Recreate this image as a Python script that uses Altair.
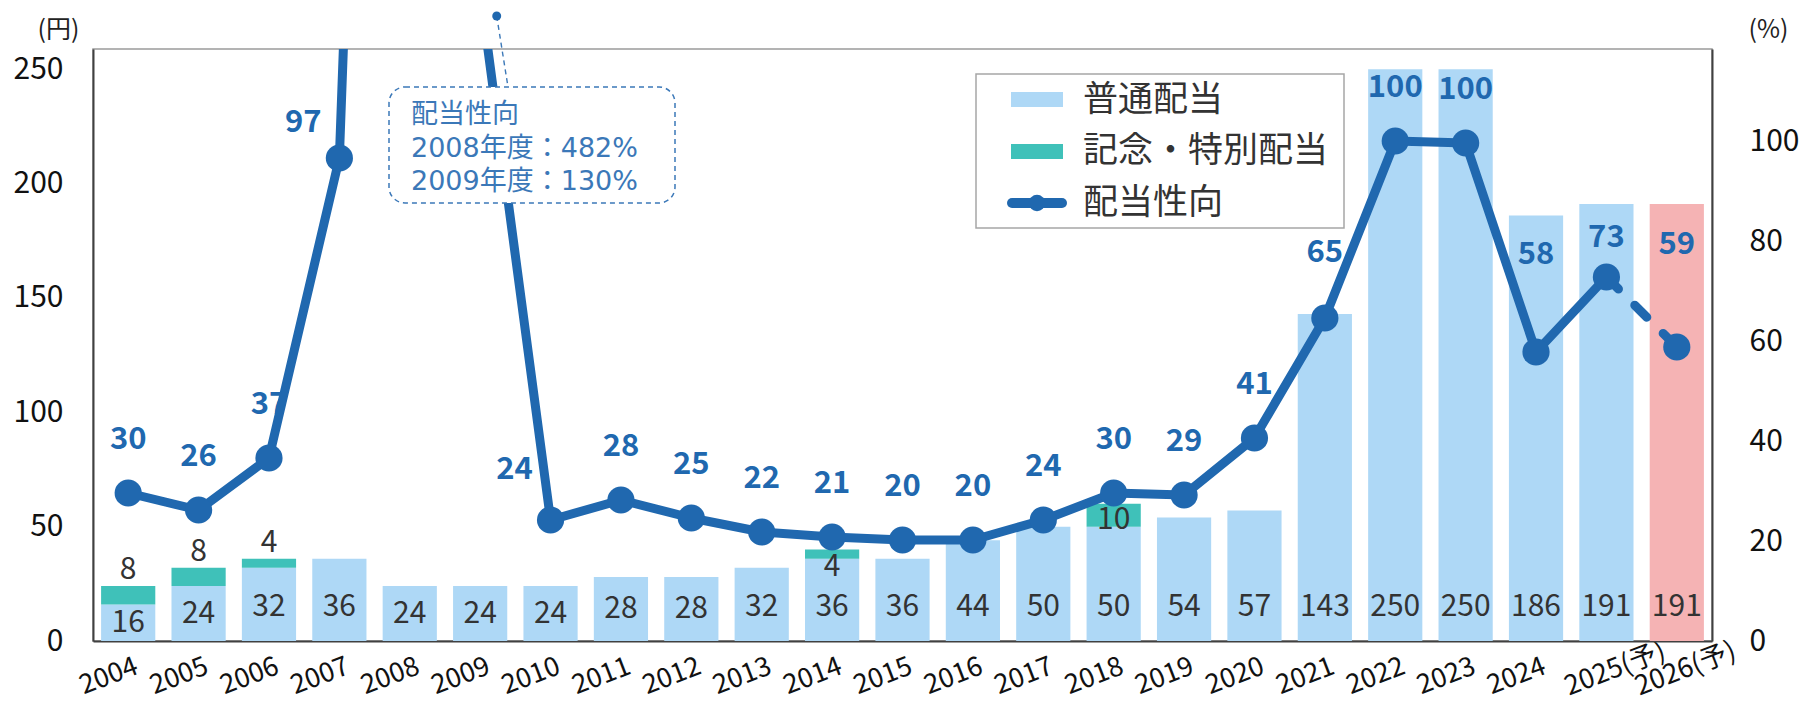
import altair as alt
import pandas as pd

# ---------------- data ----------------
years = ["2004", "2005", "2006", "2007", "2008", "2009", "2010", "2011", "2012",
         "2013", "2014", "2015", "2016", "2017", "2018", "2019", "2020", "2021",
         "2022", "2023", "2024", "2025(予)", "2026(予)"]
regular = [16, 24, 32, 36, 24, 24, 24, 28, 28, 32, 36, 36, 44, 50, 50, 54, 57,
           143, 250, 250, 186, 191, 191]
special = [8, 8, 4, 0, 0, 0, 0, 0, 0, 0, 4, 0, 0, 0, 10, 0, 0, 0, 0, 0, 0, 0, 0]
payout = [29.6, 26.2, 36.6, 96.6, 482, 130, 24.2, 28.2, 24.6, 21.8, 20.8, 20.2,
          20.2, 24.2, 29.6, 29.2, 40.6, 64.6, 100.0, 99.6, 57.8, 72.8, 58.8]

legend_labels = ["普通配当", "記念・特別配当", "配当性向"]

# ---------------- style ----------------
FONT = "Noto Sans CJK JP"
ANN_FONT = "DejaVu Sans, Noto Sans CJK JP"
BAR_BLUE = "#AED8F6"
TEAL = "#3FC1B9"
PINK = "#F5B3B4"
LINE = "#2068AF"
ANN = "#3B78B8"
TXT = "#333333"

W, H = 1619, 592
LEFT_MAX = 258.8
RIGHT_MAX = 118.4
PX_PER_PCT = H / RIGHT_MAX
PX_PER_YEN = H / LEFT_MAX

# label placement tweaks (pixels)
lift_px = {"2007": 35, "2010": 50, "2021": 65, "2024": 97, "2025(予)": 39, "2026(予)": 102}
shift_left = ["2007", "2010"]
special_place = {"2014": "below", "2018": "inside"}

df = pd.DataFrame({"year": years, "regular": regular, "special": special, "payout": payout})
df["total"] = df["regular"] + df["special"]
df["bar_label_y"] = [min(r / 2, 34 / PX_PER_YEN) for r in df["regular"]]


def sp_y(row):
    place = special_place.get(row["year"], "above")
    if place == "below":
        return row["regular"] - 8.5 / PX_PER_YEN
    if place == "inside":
        return row["regular"] + 0.3 * row["special"]
    return row["total"] + 16 / PX_PER_YEN


df["sp_label_y"] = df.apply(sp_y, axis=1)
df["line_label_y"] = [p + lift_px.get(y, 53) / PX_PER_PCT for y, p in zip(df["year"], df["payout"])]
df["shift"] = df["year"].isin(shift_left)

FORECAST_TEST = "indexof(datum.value, '予') >= 0"

x_enc = alt.X("year:N", sort=years, title=None,
              scale=alt.Scale(paddingInner=0.23, paddingOuter=0.115),
              axis=alt.Axis(labelAngle=-21, labelAlign="right",
                            labelBaseline={"condition": {"test": FORECAST_TEST, "value": "middle"},
                                           "value": "top"},
                            labelOffset={"condition": {"test": FORECAST_TEST, "value": 58},
                                         "value": 4},
                            labelPadding={"condition": {"test": FORECAST_TEST, "value": 9},
                                          "value": 12},
                            labelFontSize=27, labelColor="#111",
                            labelOverlap=False, ticks=False, domainColor="#404040",
                            domainWidth=2, labelFont=FONT, labelBound=False))

left_scale = alt.Scale(domain=[0, LEFT_MAX], nice=False, zero=True)
right_scale = alt.Scale(domain=[0, RIGHT_MAX], nice=False, zero=True)

left_axis = alt.Axis(values=[0, 50, 100, 150, 200, 250], ticks=False, grid=False,
                     labelFontSize=30, labelPadding=30, labelColor="#111",
                     domainColor="#404040", domainWidth=2, title="(円)",
                     titleAngle=0, titleX=-35, titleY=-20, titleAlign="center",
                     titleBaseline="middle", titleFontSize=25, titleFontWeight="normal",
                     titleColor="#222", labelFont=FONT, titleFont=FONT)
right_axis = alt.Axis(values=[0, 20, 40, 60, 80, 100], ticks=False, grid=False,
                      orient="right", labelFontSize=30, labelPadding=37, labelColor="#111",
                      labelAlign="left", domainColor="#404040", domainWidth=2, title="(%)",
                      titleAngle=0, titleX=56, titleY=-20, titleAlign="center",
                      titleBaseline="middle", titleFontSize=25, titleFontWeight="normal",
                      titleColor="#222", labelFont=FONT, titleFont=FONT)

base = alt.Chart(df)

bars = base.mark_bar().encode(
    x=x_enc,
    y=alt.Y("regular:Q", scale=left_scale, axis=left_axis),
    color=alt.condition("datum.year == '2026(予)'", alt.value(PINK), alt.value(BAR_BLUE)),
)
bars_sp = base.transform_filter("datum.special > 0").mark_bar(color=TEAL).encode(
    x=x_enc, y=alt.Y("total:Q"), y2=alt.Y2("regular:Q"))
bar_text = base.mark_text(font=FONT, fontSize=30, color=TXT, baseline="middle").encode(
    x=x_enc, y=alt.Y("bar_label_y:Q"), text=alt.Text("regular:Q"))
sp_text = base.transform_filter("datum.special > 0").mark_text(
    font=FONT, fontSize=30, color=TXT, baseline="middle").encode(
    x=x_enc, y=alt.Y("sp_label_y:Q"), text=alt.Text("special:Q"))

left_layer = alt.layer(bars, bars_sp, bar_text, sp_text)

solid_df = df.iloc[:-1]
dash_df = df.iloc[-2:]
line_solid = alt.Chart(solid_df).mark_line(color=LINE, strokeWidth=9, clip=True,
                                           strokeJoin="round").encode(
    x=x_enc, y=alt.Y("payout:Q", scale=right_scale, axis=right_axis))
line_dash = alt.Chart(dash_df).mark_line(color=LINE, strokeWidth=9, clip=True,
                                         strokeDash=[17, 23], strokeCap="round").encode(
    x=x_enc, y=alt.Y("payout:Q"))
pts = base.mark_circle(size=740, color=LINE, opacity=1, clip=True).encode(
    x=x_enc, y=alt.Y("payout:Q"))
vis = base.transform_filter(f"datum.payout <= {RIGHT_MAX}")
lab_norm = vis.transform_filter("!datum.shift").mark_text(
    font=FONT, fontSize=31, fontWeight="bold", color=LINE, baseline="middle").encode(
    x=x_enc, y=alt.Y("line_label_y:Q"), text=alt.Text("payout:Q", format=".0f"))
lab_shift = vis.transform_filter("datum.shift").mark_text(
    font=FONT, fontSize=31, fontWeight="bold", color=LINE, baseline="middle", dx=-36).encode(
    x=x_enc, y=alt.Y("line_label_y:Q"), text=alt.Text("payout:Q", format=".0f"))

right_layer = alt.layer(line_solid, line_dash, pts, lab_norm, lab_shift)

# ---------------- annotation callout ----------------
one = pd.DataFrame({"k": [0]})
ann_text = "\n".join(["配当性向",
                      f"2008年度：{payout[4]:.0f}%",
                      f"2009年度：{payout[5]:.0f}%"])
ann_box = alt.Chart(one).mark_rect(cornerRadius=16, fill="white", stroke=ANN,
                                   strokeDash=[5, 4], strokeWidth=1.5).encode(
    x=alt.value(296), x2=alt.value(582), y=alt.value(38), y2=alt.value(154))
ann_rule = alt.Chart(one).mark_rule(color=ANN, strokeDash=[5, 4], strokeWidth=1.4).encode(
    x=alt.value(403.7), y=alt.value(-33), x2=alt.value(415), y2=alt.value(38))
ann_dot = alt.Chart(one).mark_circle(size=80, color=LINE, opacity=1).encode(
    x=alt.value(403.7), y=alt.value(-33))
ann_txt = alt.Chart(one).mark_text(font=ANN_FONT, fontSize=27, color=ANN, align="left",
                                   baseline="middle", lineBreak="\n", lineHeight=33.5).encode(
    x=alt.value(318), y=alt.value(66), text=alt.value(ann_text))

# ---------------- legend ----------------
leg_box = alt.Chart(one).mark_rect(fill="white", stroke="#a6a6a6", strokeWidth=1.5).encode(
    x=alt.value(883), x2=alt.value(1251), y=alt.value(25), y2=alt.value(179))
leg_r1 = alt.Chart(one).mark_rect(color=BAR_BLUE).encode(
    x=alt.value(918), x2=alt.value(970), y=alt.value(43), y2=alt.value(58))
leg_r2 = alt.Chart(one).mark_rect(color=TEAL).encode(
    x=alt.value(918), x2=alt.value(970), y=alt.value(95), y2=alt.value(110))
leg_line = alt.Chart(one).mark_rule(color=LINE, strokeWidth=10, strokeCap="round").encode(
    x=alt.value(919), x2=alt.value(969), y=alt.value(154))
leg_dot = alt.Chart(one).mark_circle(size=270, color=LINE, opacity=1).encode(
    x=alt.value(944), y=alt.value(154))
leg_df = pd.DataFrame({"label": legend_labels, "row": [0, 1, 2]})
leg_txt = alt.Chart(leg_df).transform_calculate(
    py="[51, 101.5, 154.3][datum.row]").mark_text(
    font=FONT, fontSize=35, color=TXT, align="left", baseline="middle").encode(
    x=alt.value(990), y=alt.Y("py:Q", scale=None), text="label:N")

deco = alt.layer(ann_box, ann_rule, ann_dot, ann_txt, leg_box, leg_r1, leg_r2,
                 leg_line, leg_dot, leg_txt)

chart = alt.layer(left_layer, right_layer, deco).resolve_scale(y="independent").properties(
    width=W, height=H,
    autosize=alt.AutoSizeParams(type="none"),
    padding={"left": 85, "top": 41, "right": 90, "bottom": 62},
).configure(font=FONT).configure_view(stroke="#9a9a9a", strokeWidth=1.5)

chart.save("out.html", embed_options={"renderer": "svg", "actions": False})
